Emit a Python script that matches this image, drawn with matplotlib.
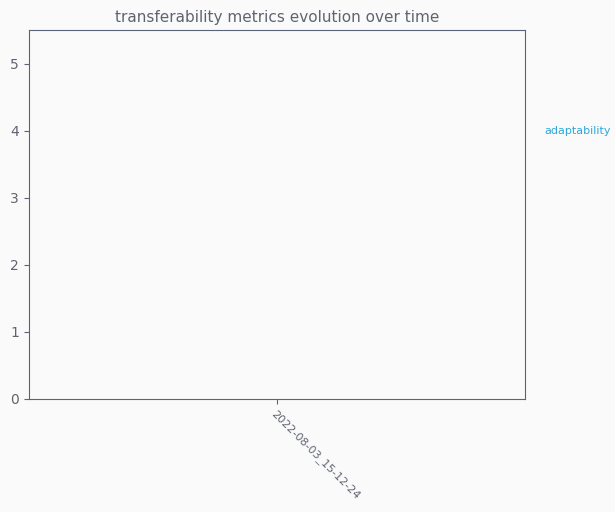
import matplotlib
matplotlib.use("Agg")
import matplotlib.pyplot as plt

dates = ["2022-08-03_15-12-24"]
series_name = "adaptability"
values = [4]

fig = plt.figure(figsize=(6.15, 5.12), dpi=100, facecolor="#fafafa")
ax = fig.add_axes([0.047, 0.221, 0.807, 0.72])
ax.set_facecolor("#fafafa")
x = list(range(len(dates)))
ax.plot(x, values, color="#2ea8d8")
ax.set_xlim(-1, 1)
ax.set_ylim(0, 5.5)
ax.set_xticks(x)
ax.set_xticklabels(dates, rotation=-45, ha="left", rotation_mode="anchor", fontsize=8, color="#5f6470")
ax.tick_params(axis="y", colors="#5f6470", labelsize=10)
ax.tick_params(axis="x", colors="#5f6470")
for s in ax.spines.values():
    s.set_color("#5a6478")
ax.set_title("transferability metrics evolution over time", color="#5f6470", fontsize=11)
ax.annotate(series_name, xy=(1, values[-1]), xycoords=("axes fraction", "data"),
            xytext=(14, 0), textcoords="offset points", va="center", fontsize=8, color="#2ea8d8")
fig.savefig("out.png", dpi=100, facecolor=fig.get_facecolor())
